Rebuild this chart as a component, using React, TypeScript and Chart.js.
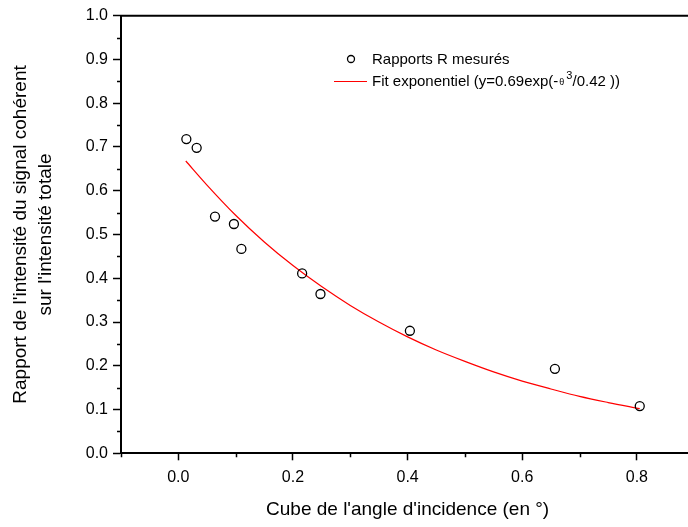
import React, { useEffect, useRef } from "react";
import { Chart, registerables } from "chart.js";

Chart.register(...registerables);

// Measured ratios R vs cube of incidence angle
const measuredX = [0.014, 0.032, 0.064, 0.097, 0.110, 0.216, 0.248, 0.404, 0.657, 0.805];
const measuredY = [0.718, 0.698, 0.541, 0.524, 0.467, 0.411, 0.364, 0.280, 0.193, 0.108];

// Exponential fit curve
const fitX = [0.013, 0.05, 0.1, 0.15, 0.2, 0.25, 0.3, 0.35, 0.4, 0.45, 0.5, 0.55, 0.6, 0.65, 0.7, 0.75, 0.805];
const fitY = [0.668, 0.613, 0.544, 0.483, 0.429, 0.381, 0.338, 0.300, 0.266, 0.236, 0.210, 0.186, 0.165, 0.147, 0.130, 0.116, 0.102];

const xMajorTicks = [0, 0.2, 0.4, 0.6, 0.8];
const xMinorTicks = [-0.1, 0.1, 0.3, 0.5, 0.7, 0.9];
const yMajorTicks = [0, 0.1, 0.2, 0.3, 0.4, 0.5, 0.6, 0.7, 0.8, 0.9, 1.0];
const yMinorTicks = [0.05, 0.15, 0.25, 0.35, 0.45, 0.55, 0.65, 0.75, 0.85, 0.95];

const xTitle = "Cube de l'angle d'incidence (en °)";
const yTitleLines = ["Rapport de l'intensité du signal cohérent", "sur l'intensité totale"];
const legendMeasured = "Rapports R mesurés";
const legendFitPre = "Fit exponentiel (y=0.69exp(-";
const legendFitTheta = "θ";
const legendFitSup = "3";
const legendFitPost = "/0.42 ))";

const FONT = "'Liberation Sans', Arial, sans-serif";

const decorPlugin = {
  id: "decor",
  afterDraw(chart: any) {
    const ctx = chart.ctx as CanvasRenderingContext2D;
    const { left, right, top, bottom } = chart.chartArea;
    const xs = chart.scales.x;
    const ys = chart.scales.y;
    ctx.save();
    // top frame line
    ctx.strokeStyle = "#000";
    ctx.lineWidth = 2;
    ctx.beginPath();
    ctx.moveTo(left - 1, top);
    ctx.lineTo(right + 10, top);
    ctx.stroke();
    // minor ticks
    ctx.lineWidth = 1.5;
    ctx.beginPath();
    yMinorTicks.forEach((v) => {
      const py = Math.round(ys.getPixelForValue(v)) + 0.5;
      ctx.moveTo(left - 4, py);
      ctx.lineTo(left, py);
    });
    xMinorTicks.forEach((v) => {
      const px = Math.round(xs.getPixelForValue(v)) + 0.5;
      ctx.moveTo(px, bottom);
      ctx.lineTo(px, bottom + 4);
    });
    ctx.stroke();

    // axis titles
    ctx.fillStyle = "#000";
    ctx.font = `19px ${FONT}`;
    ctx.textAlign = "center";
    ctx.textBaseline = "middle";
    ctx.fillText(xTitle, (left + right) / 2, 510);
    const cy = (top + bottom) / 2;
    ctx.save();
    ctx.translate(21, cy);
    ctx.rotate(-Math.PI / 2);
    ctx.fillText(yTitleLines[0], 0, 0);
    ctx.restore();
    ctx.save();
    ctx.translate(46, cy);
    ctx.rotate(-Math.PI / 2);
    ctx.fillText(yTitleLines[1], 0, 0);
    ctx.restore();

    // legend
    ctx.textAlign = "left";
    ctx.font = `15px ${FONT}`;
    ctx.strokeStyle = "#000";
    ctx.lineWidth = 1.3;
    ctx.beginPath();
    ctx.arc(351, 59, 3.5, 0, Math.PI * 2);
    ctx.stroke();
    ctx.fillText(legendMeasured, 372, 59.5);
    ctx.strokeStyle = "#ff0000";
    ctx.lineWidth = 1.2;
    ctx.beginPath();
    ctx.moveTo(334, 81.5);
    ctx.lineTo(367, 81.5);
    ctx.stroke();
    let tx = 372;
    ctx.fillText(legendFitPre, tx, 82);
    tx += ctx.measureText(legendFitPre).width;
    ctx.font = `9px ${FONT}`;
    ctx.fillText(legendFitTheta, tx + 1, 83);
    tx += ctx.measureText(legendFitTheta).width + 3;
    ctx.font = `11px ${FONT}`;
    ctx.fillText(legendFitSup, tx, 76);
    tx += ctx.measureText(legendFitSup).width;
    ctx.font = `15px ${FONT}`;
    ctx.fillText(legendFitPost, tx, 82);
    ctx.restore();
  },
};

export default function App() {
  const ref = useRef<HTMLCanvasElement>(null);
  useEffect(() => {
    if (!ref.current) return;
    const chart = new Chart(ref.current, {
      type: "scatter",
      data: {
        datasets: [
          {
            type: "scatter",
            label: legendMeasured,
            data: measuredX.map((x, i) => ({ x, y: measuredY[i] })),
            pointStyle: "circle",
            pointRadius: 4.5,
            borderColor: "#000",
            borderWidth: 1.3,
            backgroundColor: "rgba(0,0,0,0)",
            order: 0,
          },
          {
            type: "line",
            label: "fit",
            data: fitX.map((x, i) => ({ x, y: fitY[i] })),
            borderColor: "#ff0000",
            borderWidth: 1.2,
            pointRadius: 0,
            fill: false,
            cubicInterpolationMode: "monotone",
            order: 1,
          } as any,
        ],
      },
      options: {
        responsive: false,
        animation: false,
        devicePixelRatio: 1,
        layout: { padding: { top: 15.7, right: 3, left: 0, bottom: 0 } },
        plugins: { legend: { display: false }, tooltip: { enabled: false } },
        scales: {
          x: {
            type: "linear",
            min: -0.1,
            max: 0.9,
            afterBuildTicks: (s: any) => {
              s.ticks = xMajorTicks.map((v) => ({ value: v }));
            },
            afterFit: (s: any) => {
              s.height = 73.7;
            },
            ticks: {
              callback: (v: any) => Number(v).toFixed(1),
              color: "#000",
              font: { family: FONT, size: 16 },
              padding: 8,
              maxRotation: 0,
            },
            grid: {
              drawOnChartArea: false,
              drawTicks: true,
              tickLength: 7,
              tickWidth: 1.5,
              tickColor: "#000",
            },
            border: { display: true, color: "#000", width: 2 },
          },
          y: {
            type: "linear",
            min: 0,
            max: 1,
            afterBuildTicks: (s: any) => {
              s.ticks = yMajorTicks.map((v) => ({ value: v }));
            },
            afterFit: (s: any) => {
              s.width = 121;
            },
            ticks: {
              callback: (v: any) => Number(v).toFixed(1),
              color: "#000",
              font: { family: FONT, size: 16 },
              padding: 5,
            },
            grid: {
              drawOnChartArea: false,
              drawTicks: true,
              tickLength: 8,
              tickWidth: 1.5,
              tickColor: "#000",
            },
            border: { display: true, color: "#000", width: 2 },
          },
        },
      },
      plugins: [decorPlugin],
    });
    return () => chart.destroy();
  }, []);
  return (
    <div
      style={{
        position: "fixed",
        left: 0,
        top: 0,
        width: 688,
        height: 527,
        overflow: "hidden",
        background: "#fff",
      }}
    >
      <canvas ref={ref} width={700} height={527} style={{ display: "block" }} />
    </div>
  );
}
